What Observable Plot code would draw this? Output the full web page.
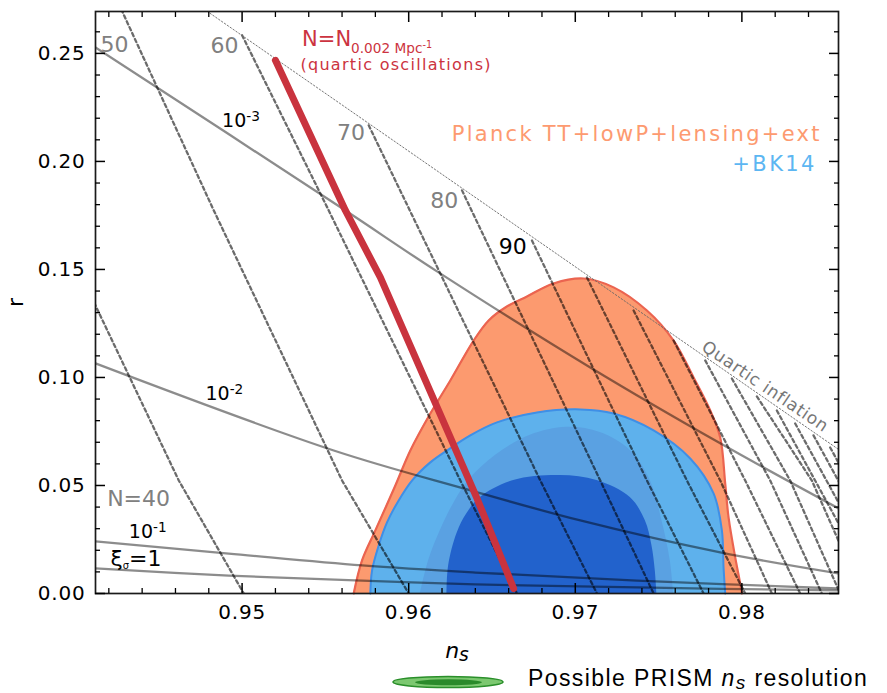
<!DOCTYPE html>
<html><head><meta charset="utf-8">
<script src="https://cdn.jsdelivr.net/npm/d3@7"></script>
<script src="https://cdn.jsdelivr.net/npm/@observablehq/plot@0.6"></script>
<style>
body{margin:0;background:#fff;}
#chart svg{display:block}
#legend{width:887px;height:28px;}
#legend svg{display:block}
</style></head><body><div id="chart"></div><div id="legend"></div>
<script>
// ---- axis ticks ----
const xMajor = [0.95, 0.96, 0.97, 0.98];
const xMinor = [0.942,0.944,0.946,0.948,0.952,0.954,0.956,0.958,0.962,0.964,0.966,0.968,0.972,0.974,0.976,0.978,0.982,0.984];
const yMajor = [0, 0.05, 0.10, 0.15, 0.20, 0.25];
const yMinor = [0.01,0.02,0.03,0.04,0.06,0.07,0.08,0.09,0.11,0.12,0.13,0.14,0.16,0.17,0.18,0.19,0.21,0.22,0.23,0.24,0.26];

// ---- Planck TT+lowP+lensing+ext contour (upper boundary, r>=0) ----
const planckNs = [0.9567,0.9572,0.9580,0.9592,0.9601,0.9613,0.9625,0.9639,0.9648,0.9658,0.9671,0.9687,0.9705,0.9723,0.9743,0.9759,0.9771,0.9781,0.9787,0.9790,0.9792,0.9796,0.9799,0.9800];
const planckR  = [0,0.0153,0.0292,0.0500,0.0662,0.0833,0.0986,0.1171,0.1264,0.1324,0.1375,0.1435,0.1458,0.1417,0.1310,0.1171,0.1000,0.0847,0.0722,0.0509,0.0352,0.0167,0.0046,0];
// ---- +BK14 95% ----
const bk95Ns = [0.9577,0.9578,0.9582,0.9587,0.9594,0.9602,0.9613,0.9623,0.9637,0.9653,0.9677,0.9703,0.9723,0.9747,0.9769,0.9783,0.9788,0.9789,0.9790];
const bk95R  = [0,0.0106,0.0222,0.0329,0.0431,0.0523,0.0607,0.0662,0.0732,0.0792,0.0838,0.0852,0.0833,0.0755,0.0625,0.0463,0.0292,0.0120,0];
// ---- intermediate shade ----
const midNs = [0.9607,0.9612,0.9619,0.9628,0.9637,0.9652,0.9673,0.9695,0.9715,0.9733,0.9745,0.9752,0.9757,0.9759];
const midR  = [0,0.0153,0.0292,0.0431,0.0532,0.0639,0.0732,0.0769,0.0745,0.0662,0.0523,0.0338,0.0153,0];
// ---- +BK14 68% ----
const bk68Ns = [0.9623,0.9624,0.9629,0.9635,0.9643,0.9663,0.9691,0.9713,0.9733,0.9742,0.9746,0.9748,0.9749];
const bk68R  = [0,0.0130,0.0278,0.0370,0.0444,0.0523,0.0546,0.0523,0.0444,0.0338,0.0222,0.0106,0];

// ---- constant-N lines (dashed) ----
const efoldLines = [
  {N:40,  ns:[0.9403,0.9412,0.9462,0.9501], r:[0.1482,0.1333,0.0523,0]},
  {N:50,  ns:[0.9423,0.9428,0.9483,0.9560,0.9600], r:[0.2787,0.2695,0.1773,0.0523,0]},
  {N:60,  ns:[0.9500,0.9552,0.9631,0.9665], r:[0.2584,0.1773,0.0523,0]},
  {N:70,  ns:[0.9576,0.9679,0.9713], r:[0.2167,0.0523,0]},
  {N:80,  ns:[0.9632,0.9715,0.9747], r:[0.1866,0.0523,0]},
  {N:90,  ns:[0.9674,0.9743,0.9777], r:[0.1634,0.0523,0]},
  {N:100, ns:[0.9707,0.9767,0.9802], r:[0.1463,0.0523,0]},
  {N:110, ns:[0.9735,0.9787,0.9818], r:[0.1310,0.0523,0]},
  {N:120, ns:[0.9759,0.9802,0.9835], r:[0.1171,0.0523,0]},
  {N:130, ns:[0.9778,0.9817,0.9848], r:[0.1079,0.0523,0]},
  {N:140, ns:[0.9794,0.9829,0.9859], r:[0.0995,0.0523,0]},
  {N:150, ns:[0.9809,0.9842,0.9872], r:[0.0912,0.0523,0]},
  {N:160, ns:[0.9821,0.9881], r:[0.0847,0]},
  {N:170, ns:[0.9832,0.9888], r:[0.0787,0]},
  {N:180, ns:[0.9843,0.9895], r:[0.0732,0]},
  {N:190, ns:[0.9853,0.9901], r:[0.0676,0]}
];
// ---- constant xi_sigma lines (solid) ----
const xiLines = [
  {xi:"1e-3", ns:[0.9412,0.9560,0.9617,0.9709,0.9787,0.9858], r:[0.2528,0.1783,0.1491,0.1046,0.0695,0.0394]},
  {xi:"1e-2", ns:[0.9412,0.9555,0.9635,0.9703,0.9787,0.9858], r:[0.1065,0.0662,0.0482,0.0338,0.0190,0.0093]},
  {xi:"1e-1", ns:[0.9412,0.9492,0.9572,0.9640,0.9737,0.9858], r:[0.0241,0.0185,0.0130,0.0097,0.0060,0.0023]},
  {xi:"1",    ns:[0.9412,0.9492,0.9572,0.9640,0.9737,0.9858], r:[0.0116,0.0083,0.0060,0.0042,0.0028,0.0014]}
];
// ---- quartic inflation line ----
const quarticNs = [0.9479, 0.9858];
const quarticR  = [0.2695, 0.0667];
// ---- N = N_0.002 (quartic oscillations) ----
const redNs = [0.9520, 0.9562, 0.9583, 0.9641, 0.9663];
const redR  = [0.2468, 0.1773, 0.1463, 0.0440, 0.0023];

// ---- annotation texts and anchor points (data units) ----
const grayLabels = [
  {text:"50", ns:0.9415, r:0.2505},
  {text:"60", ns:0.9481, r:0.2500},
  {text:"70", ns:0.9557, r:0.2097},
  {text:"80", ns:0.9613, r:0.1783},
  {text:"N=40", ns:0.9419, r:0.0403}
];
const label90 = {text:"90", ns:0.9654, r:0.1570};
const xiLabels = [
  {text:"10^{-3}", ns:0.9488, r:0.2158},
  {text:"10^{-2}", ns:0.9478, r:0.0894},
  {text:"10^{-1}", ns:0.9432, r:0.0255}
];
const xiOneLabel = {text:"ξ[0.45,0.12]{σ}=1", ns:0.9421, r:0.0125};
const redLabel = {text:"N=N[0.65,0.29]{0.002 Mpc}[0.46,0.08]{-1}", ns:0.9536, r:0.2532};
const redLabel2 = {text:"(quartic oscillations)", ns:0.9535, r:0.2424};
const planckLabel = {text:"Planck TT+lowP+lensing+ext", ns:0.9848, r:0.2093};
const bkLabel = {text:"+BK14", ns:0.9845, r:0.1954};
const quarticLabel = {text:"Quartic inflation", ns:0.9814, r:0.0958};

const pts = (ns, r) => ns.map((x, i) => ({ns: x, r: r[i]}));
const planck = pts(planckNs, planckR), bk95 = pts(bk95Ns, bk95R), mid = pts(midNs, midR), bk68 = pts(bk68Ns, bk68R);
const efold = efoldLines.flatMap(l => l.ns.map((x, i) => ({N: l.N, ns: x, r: l.r[i]})));
const xi = xiLines.flatMap(l => l.ns.map((x, i) => ({xi: l.xi, ns: x, r: l.r[i]})));
const quartic = pts(quarticNs, quarticR), red = pts(redNs, redR);

const fmt = d3.format(".2f");
const blank = () => "";
const T = (d, o) => Plot.text([d], {x: "ns", y: "r", text: "text", lineAnchor: "bottom", textAnchor: "start", ...o});

const chart = Plot.plot({
  width: 887, height: 665,
  marginLeft: 95, marginRight: 49, marginTop: 11, marginBottom: 72,
  x: {domain: [0.9412, 0.9858]},
  y: {domain: [0, 0.2694]},
  style: {fontFamily: "'DejaVu Sans', sans-serif", fontSize: "20px", background: "#fff", color: "#000"},
  marks: [
    Plot.areaY(planck, {x: "ns", y: "r", curve: "catmull-rom", fill: "#fc9a6f"}),
    Plot.line(planck, {x: "ns", y: "r", curve: "catmull-rom", stroke: "#eb6450", strokeWidth: 2.2}),
    Plot.areaY(bk95, {x: "ns", y: "r", curve: "catmull-rom", fill: "#5eb1ec"}),
    Plot.line(bk95, {x: "ns", y: "r", curve: "catmull-rom", stroke: "#3f8fe6", strokeWidth: 2}),
    Plot.areaY(mid, {x: "ns", y: "r", curve: "catmull-rom", fill: "#5aa1e2"}),
    Plot.areaY(bk68, {x: "ns", y: "r", curve: "catmull-rom", fill: "#2262cc"}),
    Plot.line(xi, {x: "ns", y: "r", z: "xi", curve: "catmull-rom", stroke: "#000", strokeOpacity: 0.45, strokeWidth: 2.3, clip: true}),
    Plot.line(efold, {x: "ns", y: "r", z: "N", stroke: "#000", strokeOpacity: 0.58, strokeWidth: 2.3, strokeDasharray: "3.5,3", clip: true}),
    Plot.line(quartic, {x: "ns", y: "r", stroke: "#666", strokeWidth: 0.9, strokeDasharray: "1.5,2", clip: true}),
    Plot.line(red, {x: "ns", y: "r", stroke: "#c9333e", strokeWidth: 7}),
    Plot.text(grayLabels, {x: "ns", y: "r", text: "text", fill: "#808080", fontSize: 22, lineAnchor: "bottom", textAnchor: "start"}),
    T(label90, {fill: "#000", fontSize: 22}),
    Plot.text(xiLabels, {x: "ns", y: "r", text: "text", fill: "#000", fontSize: 19, lineAnchor: "bottom", textAnchor: "start"}),
    T(xiOneLabel, {fill: "#000", fontSize: 22}),
    T(redLabel, {fill: "#cc3340", fontSize: 21}),
    T(redLabel2, {fill: "#cc3340", fontSize: 16}),
    T(planckLabel, {fill: "#fd9a70", fontSize: 21, textAnchor: "end"}),
    T(bkLabel, {fill: "#5cb6f2", fontSize: 21, textAnchor: "end"}),
    T(quarticLabel, {fill: "#777", fontSize: 17, textAnchor: "middle", lineAnchor: "middle", rotate: 34}),
    Plot.text(["n[0.85,0.18]{s}"], {text: d => d, frameAnchor: "bottom", dx: -10, dy: 64, fontSize: 22, fontStyle: "italic", lineAnchor: "bottom", textAnchor: "middle"}),
    Plot.text(["r"], {text: d => d, frameAnchor: "left", dx: -80, rotate: -90, fontSize: 22, textAnchor: "middle", lineAnchor: "middle"}),
    Plot.frame({stroke: "#1a1a1a", strokeWidth: 1.7}),
    Plot.axisX(xMajor, {anchor: "bottom", tickSize: -10, tickPadding: 21, tickFormat: fmt, fontSize: 20, strokeWidth: 1.5, label: null}),
    Plot.axisX(xMinor, {anchor: "bottom", tickSize: -5, tickFormat: blank, strokeWidth: 1.3, label: null}),
    Plot.axisX(xMajor, {anchor: "top", tickSize: -10, tickFormat: blank, strokeWidth: 1.5, label: null}),
    Plot.axisX(xMinor, {anchor: "top", tickSize: -5, tickFormat: blank, strokeWidth: 1.3, label: null}),
    Plot.axisY(yMajor, {anchor: "left", tickSize: -10, tickPadding: 20, tickFormat: fmt, fontSize: 20, strokeWidth: 1.5, label: null}),
    Plot.axisY(yMinor, {anchor: "left", tickSize: -5, tickFormat: blank, strokeWidth: 1.3, label: null}),
    Plot.axisY(yMajor, {anchor: "right", tickSize: -10, tickFormat: blank, strokeWidth: 1.5, label: null}),
    Plot.axisY(yMinor, {anchor: "right", tickSize: -5, tickFormat: blank, strokeWidth: 1.3, label: null})
  ]
});
document.getElementById("chart").appendChild(chart);

// rich text: ^{sup}, _{sub}, [size,shift]{text}
const spacing = {
  "Planck TT+lowP+lensing+ext": "2.3px", "+BK14": "2.4px",
  "(quartic oscillations)": "1.3px", "Quartic inflation": "0.7px"
};
chart.querySelectorAll("text").forEach(t => {
  const s = t.textContent;
  if (spacing[s]) t.style.letterSpacing = spacing[s];
  if (/^\d\.\d\d$/.test(s)) t.style.letterSpacing = "0.8px";
  if (!/\^\{|_\{|\]\{/.test(s)) return;
  const fs = parseFloat(getComputedStyle(t).fontSize);
  const re = /\^\{([^}]*)\}|_\{([^}]*)\}|\[([-\d.]+),([-\d.]+)\]\{([^}]*)\}|([^\^_\[]+)/g;
  const toks = []; let m;
  while ((m = re.exec(s))) {
    if (m[1] !== undefined) toks.push([m[1], 0.72, -0.32]);
    else if (m[2] !== undefined) toks.push([m[2], 0.65, 0.25]);
    else if (m[3] !== undefined) toks.push([m[5], +m[3], +m[4]]);
    else toks.push([m[6], 1, 0]);
  }
  t.textContent = "";
  let cur = 0;
  for (const [txt, size, shift] of toks) {
    const ts = document.createElementNS("http://www.w3.org/2000/svg", "tspan");
    ts.textContent = txt;
    ts.setAttribute("font-size", (size * fs).toFixed(2));
    const dy = (shift - cur) * fs;
    if (dy) ts.setAttribute("dy", dy.toFixed(2));
    cur = shift;
    t.appendChild(ts);
  }
});

// legend below the plot
document.getElementById("legend").innerHTML = `
<svg width="887" height="28" xmlns="http://www.w3.org/2000/svg">
  <ellipse cx="448" cy="17" rx="55" ry="5.5" fill="#7cc870" stroke="#2a8f2a" stroke-width="1.5"/>
  <ellipse cx="448.5" cy="17.3" rx="33.5" ry="3" fill="#2a8a2a"/>
  <text x="528" y="21" font-family="'Liberation Sans', Arial, sans-serif" font-size="23" letter-spacing="1.4">Possible PRISM <tspan font-style="italic">n</tspan><tspan font-style="italic" font-size="19" dy="3">s</tspan><tspan dy="-3"> resolution</tspan></text>
</svg>`;
</script></body></html>
